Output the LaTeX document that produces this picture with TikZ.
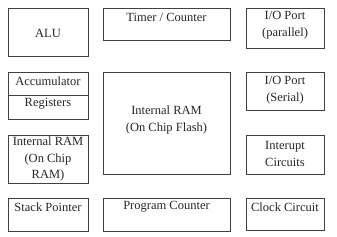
\documentclass[tikz,border=0pt]{standalone}
\usepackage{fontspec}
\setmainfont{Liberation Serif}
\begin{document}
\begin{tikzpicture}[x=1pt,y=-1pt,
  blk/.style={draw=black!75,line width=1pt},
  lbl/.style={font=\fontsize{12.5}{16.5}\selectfont,align=center,inner sep=0pt,text=black!85}]
\useasboundingbox (0,0) rectangle (337,236);
% boxes
\draw[blk] (8,8) rectangle (88,56);
\node[lbl] (alu) at (48,33) {ALU};
\draw[blk] (103,8) rectangle (230,40);
\node[lbl] (timer) at (166.5,17) {Timer / Counter};
\draw[blk] (246,8) rectangle (324,48);
\node[lbl] (iop) at (285,25) {I/O Port\\(parallel)};
\draw[blk] (8,72) rectangle (88,119);
\draw[blk] (8,95) -- (88,95);
\node[lbl] (acc) at (48,81) {Accumulator};
\node[lbl] (reg) at (48,104) {Registers};
\draw[blk] (103,72) rectangle (230,174);
\node[lbl] (iram) at (166.5,120) {Internal RAM\\(On Chip Flash)};
\draw[blk] (246,72) rectangle (324,110);
\node[lbl] (ios) at (285,90) {I/O Port\\(Serial)};
\draw[blk] (8,135) rectangle (88,183);
\node[lbl] (iram2) at (48,159) {Internal RAM\\(On Chip\\RAM)};
\draw[blk] (246,135) rectangle (324,174);
\node[lbl] (intr) at (285,154) {Interupt\\Circuits};
\draw[blk] (8,198) rectangle (88,231);
\node[lbl] (sp) at (48,207) {Stack Pointer};
\draw[blk] (103,198) rectangle (230,231);
\node[lbl] (pc) at (166.5,207) {Program Counter};
\draw[blk] (246,198) rectangle (324,230);
\node[lbl] (clk) at (285,207) {Clock Circuit};
\end{tikzpicture}
\end{document}
